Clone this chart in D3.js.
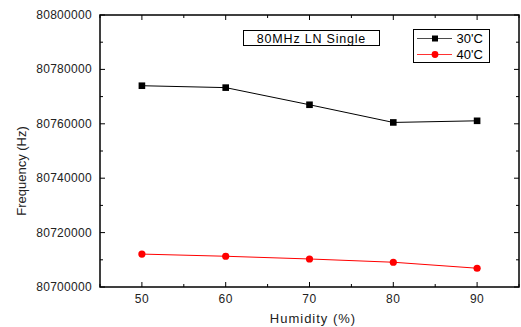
<!DOCTYPE html>
<html><head><meta charset="utf-8">
<script src="https://cdn.jsdelivr.net/npm/d3@7"></script>
<style>body{margin:0;background:#fff}svg{display:block}text{font-family:"Liberation Sans",Arial,sans-serif}</style>
</head><body>
<script>
const humidity = [50, 60, 70, 80, 90];
const freq30 = [80774000, 80773300, 80767000, 80760500, 80761100];
const freq40 = [80712100, 80711300, 80710300, 80709100, 80706900];
const xTicks = [50, 60, 70, 80, 90];
const yTicks = [80700000, 80720000, 80740000, 80760000, 80780000, 80800000];
const seriesNames = ["30'C", "40'C"];
const title = "80MHz LN Single";

const W = 521, H = 327;
const m = {l:100, t:15, r:519, b:287};
const svg = d3.select("body").append("svg").attr("width", W).attr("height", H);
const x = d3.scaleLinear().domain([45, 95]).range([m.l, m.r]);
const y = d3.scaleLinear().domain([80700000, 80800000]).range([m.b, m.t]);

const txtCol = "#222";
// frame
svg.append("rect").attr("x", m.l).attr("y", m.t).attr("width", m.r - m.l).attr("height", m.b - m.t)
  .attr("fill", "none").attr("stroke", "#000").attr("stroke-width", 1.5);

const xMinor = d3.range(45, 96, 5);
const yMinor = d3.range(80700000, 80800001, 10000);
const g = svg.append("g").attr("stroke", "#000").attr("stroke-width", 1);
xMinor.forEach(v => {
  const len = (v % 10 === 0) ? 5 : 3;
  g.append("line").attr("x1", x(v)).attr("x2", x(v)).attr("y1", m.b).attr("y2", m.b - len);
  g.append("line").attr("x1", x(v)).attr("x2", x(v)).attr("y1", m.t).attr("y2", m.t + len);
});
yMinor.forEach(v => {
  const len = (v % 20000 === 0) ? 5 : 3;
  g.append("line").attr("x1", m.l).attr("x2", m.l + len).attr("y1", y(v)).attr("y2", y(v));
  g.append("line").attr("x1", m.r).attr("x2", m.r - len).attr("y1", y(v)).attr("y2", y(v));
});

svg.append("g").selectAll("text").data(xTicks).join("text")
  .attr("x", d => x(d)).attr("y", 303).attr("text-anchor", "middle")
  .attr("font-size", 12).attr("fill", txtCol).attr("letter-spacing", 0.5).text(d => d);
svg.append("g").selectAll("text").data(yTicks).join("text")
  .attr("x", 92).attr("y", d => y(d) + 4).attr("text-anchor", "end")
  .attr("font-size", 12).attr("fill", txtCol).attr("letter-spacing", 0.3).text(d => d);

svg.append("text").attr("x", 313).attr("y", 323).attr("text-anchor", "middle")
  .attr("font-size", 13).attr("letter-spacing", 1).attr("fill", txtCol).text("Humidity (%)");
svg.append("text").attr("transform", "translate(26,171) rotate(-90)").attr("text-anchor", "middle")
  .attr("font-size", 13).attr("fill", txtCol).text("Frequency (Hz)");

const line = d3.line().x((d, i) => x(humidity[i])).y(d => y(d));
const colors = ["#000", "#ff0000"];
[freq30, freq40].forEach((s, k) => {
  svg.append("path").attr("d", line(s)).attr("fill", "none").attr("stroke", colors[k]).attr("stroke-width", 1);
  if (k === 0) {
    svg.append("g").selectAll("rect").data(s).join("rect")
      .attr("x", (d, i) => x(humidity[i]) - 3.3).attr("y", d => y(d) - 3.3)
      .attr("width", 6.6).attr("height", 6.6).attr("fill", "#000");
  } else {
    svg.append("g").selectAll("circle").data(s).join("circle")
      .attr("cx", (d, i) => x(humidity[i])).attr("cy", d => y(d)).attr("r", 3.6).attr("fill", "#ff0000");
  }
});

// title box
svg.append("rect").attr("x", 243.5).attr("y", 30.5).attr("width", 136).attr("height", 15)
  .attr("fill", "#fff").attr("stroke", "#000").attr("stroke-width", 1);
svg.append("text").attr("x", 311.5).attr("y", 42.5).attr("text-anchor", "middle")
  .attr("font-size", 12.5).attr("letter-spacing", 0.8).attr("fill", "#000").text(title);

// legend
svg.append("rect").attr("x", 413.5).attr("y", 29.5).attr("width", 76).attr("height", 33)
  .attr("fill", "#fff").attr("stroke", "#000").attr("stroke-width", 1);
const ly = [38.5, 54.5];
seriesNames.forEach((n, k) => {
  svg.append("line").attr("x1", 417).attr("x2", 452).attr("y1", ly[k]).attr("y2", ly[k])
    .attr("stroke", colors[k]).attr("stroke-width", 1).attr("opacity", k === 0 ? 0.7 : 0.8);
  if (k === 0) svg.append("rect").attr("x", 432).attr("y", ly[k] - 3).attr("width", 6).attr("height", 6).attr("fill", "#000");
  else svg.append("circle").attr("cx", 435).attr("cy", ly[k]).attr("r", 3.4).attr("fill", "#ff0000");
  svg.append("text").attr("x", 456.5).attr("y", ly[k] + 4.5).attr("font-size", 13).attr("fill", "#000").text(n);
});
</script>
</body></html>
